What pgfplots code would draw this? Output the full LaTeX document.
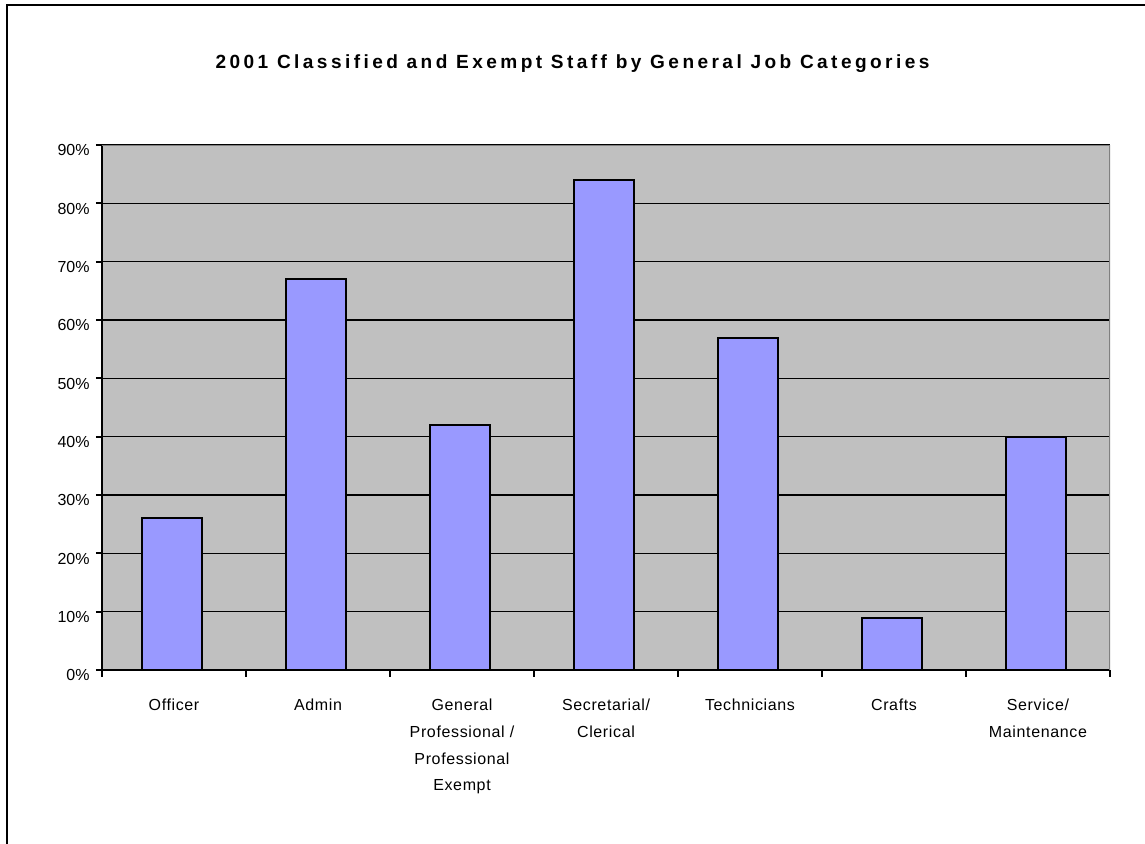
\documentclass[border=0pt]{standalone}
\usepackage{fontspec}
\setmainfont{Liberation Sans}
\usepackage{pgfplots}
\pgfplotsset{compat=1.18}
\definecolor{plotbg}{HTML}{C0C0C0}
\definecolor{barfill}{HTML}{9999FF}
\definecolor{bordergray}{HTML}{808080}
\begin{document}
\begin{tikzpicture}
\useasboundingbox (0,0) rectangle (858.75pt,-632.25pt);
\begin{scope}
\clip (0,0) rectangle (858.75pt,-632.25pt);
\draw[line width=1.5pt] (5.5pt,-700pt) -- (5.5pt,-4pt) -- (900pt,-4pt);
\end{scope}
\node[font=\fontsize{14.3}{16}\selectfont\bfseries\addfontfeatures{LetterSpace=18}] at (429.4pt,-47.5pt) {2001 Classified and Exempt Staff by General Job Categories};
\begin{axis}[
  at={(76.5pt,-502.5pt)}, anchor=south west,
  scale only axis, width=756pt, height=393.75pt,
  xmin=-0.5, xmax=6.5, ymin=0, ymax=90,
  axis lines=left, axis line style={-, line width=1.5pt, black},
  axis background/.style={fill=plotbg},
  ytick={0,10,...,90},
  yticklabels={0\%,10\%,20\%,30\%,40\%,50\%,60\%,70\%,80\%,90\%},
  ymajorgrids, major grid style={black, line width=0.8pt},
  xtick={0,...,6},
  xticklabels={Officer, Admin, {General\\Professional /\\Professional\\Exempt}, {Secretarial/\\Clerical}, Technicians, Crafts, {Service/\\Maintenance}},
  major x tick style={draw=none},
  minor xtick={-0.5,0.5,...,6.5},
  minor tick length=5pt,
  minor x tick style={black, line width=1.5pt},
  tick align=outside, major tick length=4.5pt,
  ytick style={black, line width=1.5pt},
  yticklabel style={font=\fontsize{12}{14}\selectfont, xshift=-1.3pt, yshift=-4pt},
  xticklabel style={font=\fontsize{12}{20}\selectfont\addfontfeatures{LetterSpace=4}, align=center, yshift=-14pt},
]
\addplot[ybar, bar width=45pt, bar shift=-1.5pt, fill=barfill, draw=black, line width=1.5pt] coordinates {(0,26) (1,67) (2,42) (3,84) (4,57) (5,9) (6,40)};
\draw[bordergray, line width=1.5pt] (rel axis cs:0,1) -- (rel axis cs:1,1) -- (rel axis cs:1,0);
\end{axis}
\end{tikzpicture}
\end{document}
